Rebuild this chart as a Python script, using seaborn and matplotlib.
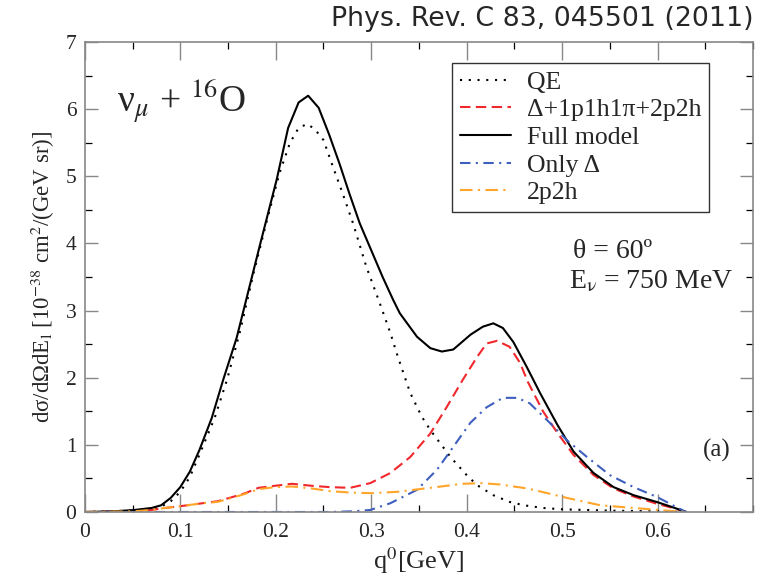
import numpy as np
import pandas as pd
import seaborn as sns
import matplotlib
matplotlib.use("Agg")
from matplotlib import pyplot as plt
from matplotlib.ticker import MultipleLocator, FuncFormatter

# Curves (q0 in GeV, cross section in 1e-38 cm^2/(GeV sr))
qe_x = [0, 0.05, 0.07, 0.08, 0.09, 0.10, 0.11, 0.12, 0.136, 0.149, 0.163, 0.176, 0.190,
        0.204, 0.215, 0.224, 0.233, 0.241, 0.250, 0.260, 0.270, 0.281, 0.295, 0.309, 0.320,
        0.328, 0.341, 0.353, 0.362, 0.372, 0.383, 0.400, 0.411, 0.428, 0.445, 0.460, 0.480,
        0.500, 0.550, 0.600, 0.630]
qe_y = [0, 0.02, 0.05, 0.08, 0.16, 0.30, 0.52, 0.85, 1.40, 1.97, 2.71, 3.51, 4.30,
        5.05, 5.50, 5.72, 5.78, 5.70, 5.54, 5.14, 4.75, 4.30, 3.65, 3.11, 2.67,
        2.31, 1.77, 1.42, 1.22, 1.03, 0.82, 0.55, 0.40, 0.25, 0.15, 0.10, 0.06,
        0.04, 0.02, 0.01, 0]

full_x = [0, 0.03, 0.052, 0.07, 0.08, 0.09, 0.10, 0.11, 0.12, 0.133, 0.145, 0.159, 0.183,
          0.201, 0.213, 0.224, 0.234, 0.245, 0.256, 0.267, 0.277, 0.288, 0.300, 0.312,
          0.323, 0.330, 0.348, 0.362, 0.374, 0.386, 0.404, 0.417, 0.428, 0.438, 0.449, 0.463,
          0.477, 0.495, 0.512, 0.533, 0.554, 0.575, 0.599, 0.616, 0.630]
full_y = [0, 0.01, 0.03, 0.06, 0.10, 0.21, 0.37, 0.60, 0.92, 1.40, 1.97, 2.59, 3.95,
          4.95, 5.72, 6.10, 6.20, 6.02, 5.62, 5.18, 4.75, 4.30, 3.90, 3.50,
          3.16, 2.96, 2.61, 2.44, 2.39, 2.42, 2.64, 2.76, 2.81, 2.74, 2.53, 2.16,
          1.77, 1.30, 0.90, 0.58, 0.37, 0.25, 0.15, 0.07, 0]

delta_all_x = [0, 0.05, 0.07, 0.084, 0.102, 0.123, 0.139, 0.154, 0.168, 0.182, 0.199, 0.217,
               0.238, 0.257, 0.278, 0.299, 0.320, 0.341, 0.362, 0.379, 0.396, 0.411, 0.421,
               0.432, 0.445, 0.456, 0.464, 0.480, 0.495, 0.512, 0.533, 0.554, 0.575, 0.600,
               0.616, 0.630]
delta_all_y = [0, 0.01, 0.03, 0.06, 0.09, 0.13, 0.16, 0.22, 0.28, 0.36, 0.39, 0.42,
               0.39, 0.37, 0.36, 0.43, 0.58, 0.82, 1.17, 1.56, 1.97, 2.31, 2.51,
               2.55, 2.46, 2.22, 1.94, 1.50, 1.18, 0.85, 0.55, 0.35, 0.23, 0.12,
               0.06, 0]

delta_x = [0, 0.20, 0.257, 0.280, 0.299, 0.320, 0.348, 0.369, 0.386, 0.404, 0.421, 0.438,
           0.453, 0.466, 0.487, 0.505, 0.526, 0.550, 0.575, 0.600, 0.616, 0.630]
delta_y = [0, 0, 0, 0.01, 0.03, 0.13, 0.33, 0.63, 0.97, 1.33, 1.56, 1.70,
           1.70, 1.62, 1.33, 1.07, 0.82, 0.55, 0.37, 0.22, 0.10, 0]

np_x = [0, 0.05, 0.07, 0.084, 0.102, 0.123, 0.139, 0.154, 0.168, 0.182, 0.199, 0.217,
        0.238, 0.257, 0.278, 0.300, 0.327, 0.362, 0.396, 0.415, 0.435, 0.459, 0.470,
        0.505, 0.540, 0.575, 0.610, 0.630]
np_y = [0, 0.01, 0.03, 0.06, 0.09, 0.13, 0.15, 0.21, 0.27, 0.34, 0.37, 0.38,
        0.35, 0.31, 0.29, 0.28, 0.30, 0.36, 0.42, 0.43, 0.41, 0.36, 0.33,
        0.21, 0.10, 0.06, 0.02, 0]

labels = ["QE", "Δ+1p1h1π+2p2h", "Full model", "Only Δ", "2p2h"]

sns.set_theme(style="ticks")
plt.rcParams['font.family'] = ['Liberation Serif', 'DejaVu Serif']
plt.rcParams['mathtext.fontset'] = 'stix'

fig = plt.figure(figsize=(7.64, 5.85), dpi=100)
ax = fig.add_axes([0.111, 0.1248, 0.8746, 0.8034])

# one entry per curve: data, colour, dash pattern
curves = [
    (qe_x, qe_y, "black", (1, 3.2)),
    (delta_all_x, delta_all_y, "#f0282d", (5, 2.6)),
    (full_x, full_y, "black", None),
    (delta_x, delta_y, "#3f5fbf", (5, 2.6, 1, 2.6)),
    (np_x, np_y, "#ffa52a", (6, 2.6, 1, 2.6)),
]
handles = []
for (xs, ys, col, dash), lab in zip(curves, labels):
    df = pd.DataFrame({"q0": xs, "xs": ys})
    sns.lineplot(data=df, x="q0", y="xs", ax=ax, color=col, lw=1.5, label=lab)
    line = ax.lines[-1]
    if dash is not None:
        line.set_dashes(dash)
    handles.append(line)

ax.set_xlim(0, 0.7)
ax.set_ylim(0, 7)
ax.set_xticks(np.arange(0, 0.61, 0.1))
ax.xaxis.set_minor_locator(MultipleLocator(0.05))
ax.yaxis.set_major_locator(MultipleLocator(1))
ax.yaxis.set_minor_locator(MultipleLocator(0.5))
ax.xaxis.set_major_formatter(FuncFormatter(lambda v, p: "%g" % round(v, 2)))
ax.tick_params(which="both", direction="in", top=True, right=True, labelsize=15.5)
ax.tick_params(axis="x", which="major", length=13, width=1.0, color="#888888", pad=8)
ax.tick_params(axis="y", which="major", length=9.5, width=1.0, color="#888888", pad=6)
ax.tick_params(which="minor", length=5, width=0.9, color="black")
for sp in ax.spines.values():
    sp.set_color("#888888")
    sp.set_linewidth(1.2)

ax.set_xlabel("q$^0$[GeV]", fontsize=19, labelpad=2)
ax.set_ylabel("dσ/dΩdE$_\\mathrm{l}$ [10$^{-38}$ cm$^2$/(GeV sr)]", fontsize=16.5, labelpad=6)

leg = ax.legend(handles=handles, labels=labels, loc="upper right",
                bbox_to_anchor=(0.934, 0.955), borderaxespad=0, fontsize=18.5,
                fancybox=False, frameon=True, handlelength=2.0, handletextpad=0.6,
                labelspacing=0.18, borderpad=0.3)
leg.get_frame().set_edgecolor("black")
leg.get_frame().set_linewidth(1.0)

ax.text(0.048, 0.849, "ν$_\\mu$ + $^{16}$O", transform=ax.transAxes, fontsize=27, va="baseline")
ax.text(0.73, 0.555, "θ = 60º", transform=ax.transAxes, fontsize=20, va="center")
ax.text(0.725, 0.49, "E$_\\mathrm{ν}$ = 750 MeV", transform=ax.transAxes, fontsize=20, va="center")
ax.text(0.925, 0.13, "(a)", transform=ax.transAxes, fontsize=18, va="center")

fig.text(0.986, 0.968, "Phys. Rev. C 83, 045501 (2011)", ha="right", va="center",
         fontsize=19.3, family="DejaVu Sans")

fig.savefig("out.png", dpi=100)
